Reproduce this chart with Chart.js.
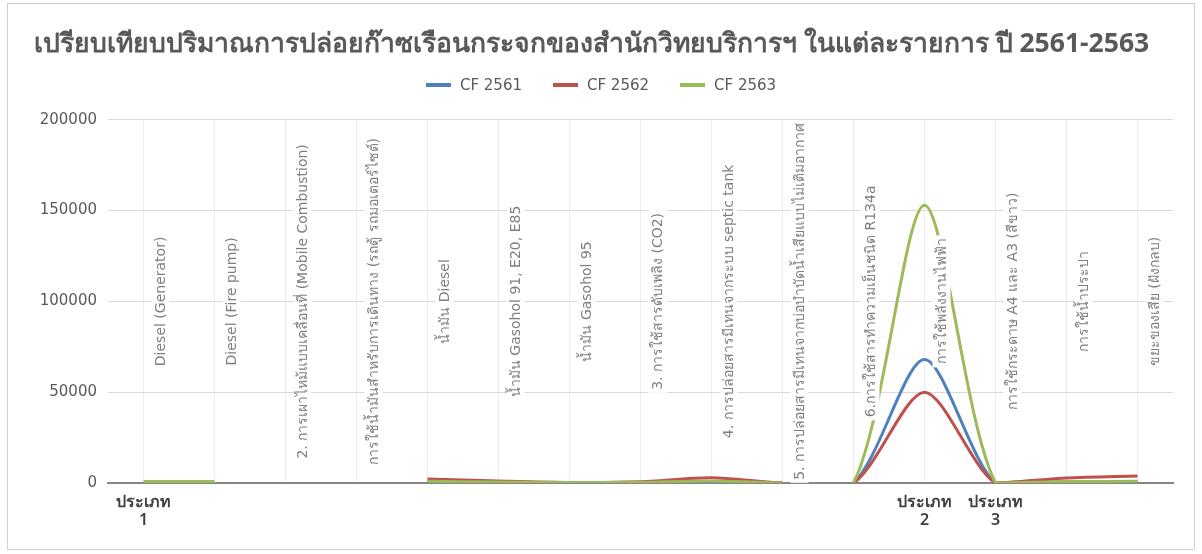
<!DOCTYPE html>
<html>
<head>
<meta charset="utf-8">
<script src="https://cdn.jsdelivr.net/npm/chart.js@4.4.1/dist/chart.umd.min.js"></script>
<style>
  body { margin: 0; background: #ffffff; }
  #wrap { position: relative; width: 1202px; height: 554px; }
</style>
</head>
<body>
<div id="wrap"><canvas id="chart1"></canvas></div>
<script>
// item names, drawn as rotated text inside the plot
var items = [
    'Diesel (Generator)',
    'Diesel (Fire pump)',
    '2. การเผาไหม้แบบเคลื่อนที่ (Mobile Combustion)',
    'การใช้น้ำมันสำหรับการเดินทาง (รถตู้ รถมอเตอร์ไซต์)',
    'น้ำมัน Diesel',
    'น้ำมัน Gasohol 91, E20, E85',
    'น้ำมัน Gasohol 95',
    '3. การใช้สารดับเพลิง (CO2)',
    '4. การปล่อยสารมีเทนจากระบบ septic tank',
    '5. การปล่อยสารมีเทนจากบ่อบำบัดน้ำเสียแบบไม่เติมอากาศ',
    '6.การใช้สารทำความเย็นชนิด R134a',
    'การใช้พลังงานไฟฟ้า',
    'การใช้กระดาษ A4 และ A3 (สีขาว)',
    'การใช้น้ำประปา',
    'ขยะของเสีย (ฝังกลบ)'
];

// group labels under the axis
var groups = [
    ['ประเภท', '1'], '', '', '', '', '', '', '', '', '', '',
    ['ประเภท', '2'], ['ประเภท', '3'], '', ''
];

var cf2561 = [0, 0, null, null, 700, 500, 200, 300, 800, 0, 0, 68000, 0, 700, 800];
var cf2562 = [0, 0, null, null, 2200, 1100, 300, 700, 2900, 0, 0, 50000, 0, 2750, 3850];
var cf2563 = [800, 800, null, null, 900, 600, 300, 400, 1100, 0, 0, 153000, 0, 800, 900];

var yTicks = [0, 50000, 100000, 150000, 200000];

var seriesNames = ['CF 2561', 'CF 2562', 'CF 2563'];
var seriesColors = ['#4F81BD', '#C0504D', '#9BBB59'];
var drawOrder = [2, 1, 0];

var baseFont = '"DejaVu Sans", sans-serif';

// hide flat runs at zero, they sit under the axis line
function zeroSegment(ctx) {
    if (ctx.p0.parsed.y === 0 && ctx.p1.parsed.y === 0) {
        return 'rgba(0,0,0,0)';
    }
    return undefined;
}

function makeDataset(i, values) {
    return {
        label: seriesNames[i],
        data: values,
        order: drawOrder[i],
        borderColor: seriesColors[i],
        backgroundColor: seriesColors[i],
        borderWidth: 3,
        pointRadius: 0,
        tension: 0.27,
        fill: false,
        segment: { borderColor: zeroSegment }
    };
}

const itemLabels = {
    id: 'itemLabels',
    afterDatasetsDraw(chart) {
        const ctx = chart.ctx;
        const xs = chart.scales.x;
        const area = chart.chartArea;
        const midY = (area.top + area.bottom) / 2;
        ctx.save();
        ctx.font = '14px ' + baseFont;
        ctx.textAlign = 'center';
        ctx.textBaseline = 'middle';
        items.forEach(function (text, i) {
            const x = xs.getPixelForValue(i) + 17;
            const w = ctx.measureText(text).width;
            ctx.save();
            ctx.translate(x, midY);
            ctx.rotate(-Math.PI / 2);
            ctx.fillStyle = '#ffffff';
            ctx.fillRect(-w / 2 - 3, -9, w + 6, 18);
            ctx.fillStyle = '#7f7f7f';
            ctx.fillText(text, 0, 1);
            ctx.restore();
        });
        ctx.restore();
    }
};

// legend drawn by hand so it can sit close under the title
const lineLegend = {
    id: 'lineLegend',
    afterDraw(chart) {
        const ctx = chart.ctx;
        const y = 85;
        const mark = 25, gap = 9, space = 31;
        ctx.save();
        ctx.font = '15px ' + baseFont;
        ctx.textBaseline = 'middle';
        ctx.textAlign = 'left';
        let total = 0;
        const widths = chart.data.datasets.map(function (ds) {
            const w = mark + gap + ctx.measureText(ds.label).width;
            total += w;
            return w;
        });
        total += space * (widths.length - 1);
        let x = (chart.width - total) / 2;
        chart.data.datasets.forEach(function (ds, i) {
            ctx.fillStyle = ds.borderColor;
            ctx.fillRect(x, y - 2, mark, 4);
            ctx.fillStyle = '#595959';
            ctx.fillText(ds.label, x + mark + gap, y + 1);
            x += widths[i] + space;
        });
        ctx.restore();
    }
};

const frame = {
    id: 'frame',
    afterDraw(chart) {
        const ctx = chart.ctx;
        ctx.save();
        ctx.strokeStyle = '#d0d0d0';
        ctx.lineWidth = 1;
        ctx.strokeRect(7.5, 3.5, 1187, 546);
        ctx.restore();
    }
};

new Chart(document.getElementById('chart1'), {
    type: 'line',
    data: {
        labels: groups,
        datasets: [
            makeDataset(0, cf2561),
            makeDataset(1, cf2562),
            makeDataset(2, cf2563)
        ]
    },
    options: {
        responsive: true,
        maintainAspectRatio: false,
        animation: false,
        layout: { padding: { left: 10, right: 29, top: 0, bottom: 0 } },
        plugins: {
            title: {
                display: true,
                text: 'เปรียบเทียบปริมาณการปล่อยก๊าซเรือนกระจกของสำนักวิทยบริการฯ ในแต่ละรายการ ปี 2561-2563',
                color: '#595959',
                font: { family: '"Noto Sans", sans-serif', size: 26.5, weight: 'bold', lineHeight: 1.2 },
                padding: { top: 29, bottom: 59 }
            },
            legend: { display: false },
            tooltip: { enabled: false }
        },
        scales: {
            x: {
                offset: true,
                grid: { offset: false, color: '#ececec', drawTicks: false },
                border: { color: '#868686', width: 2 },
                ticks: {
                    autoSkip: false,
                    maxRotation: 0,
                    padding: 10,
                    color: '#404040',
                    font: { family: '"Noto Sans", sans-serif', size: 16, weight: '600', lineHeight: 1.15 }
                },
                afterFit: function (scale) { scale.height = 71; }
            },
            y: {
                min: 0,
                max: 200000,
                afterBuildTicks: function (scale) {
                    scale.ticks = yTicks.map(function (v) { return { value: v }; });
                },
                grid: { color: '#d9d9d9', drawTicks: false },
                border: { display: false },
                ticks: {
                    padding: 11,
                    color: '#595959',
                    font: { family: baseFont, size: 15 },
                    callback: function (value) { return String(value); }
                },
                afterFit: function (scale) { scale.width = 98; }
            }
        }
    },
    plugins: [itemLabels, lineLegend, frame]
});
</script>
</body>
</html>
